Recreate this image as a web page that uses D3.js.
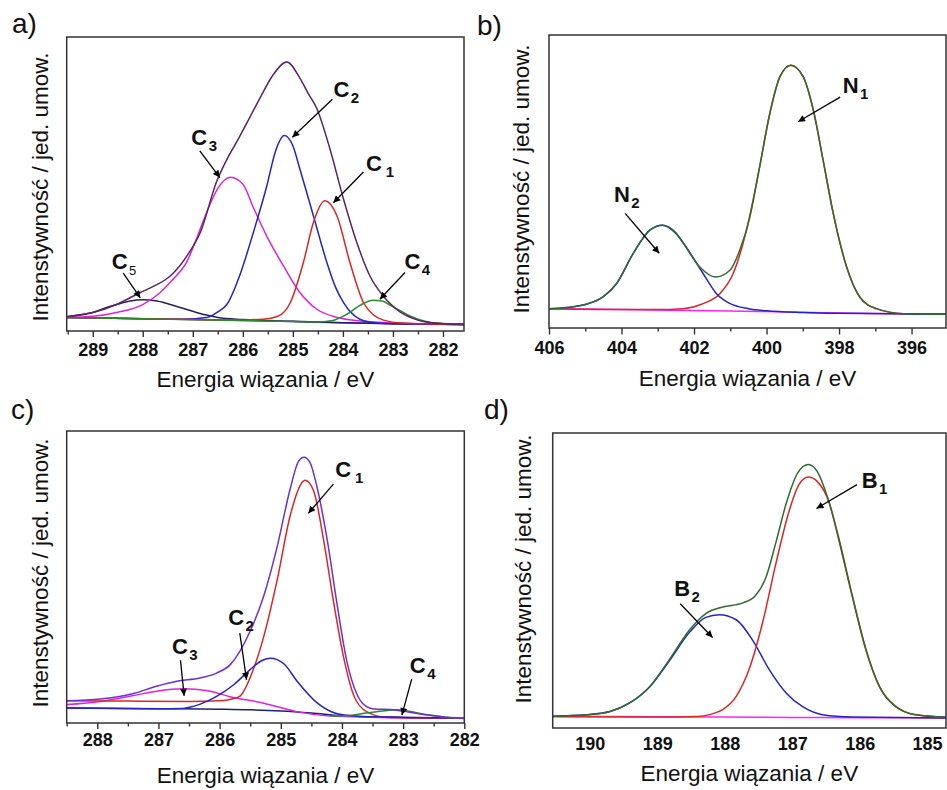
<!DOCTYPE html>
<html><head><meta charset="utf-8">
<script src="https://cdn.jsdelivr.net/npm/d3@7"></script>
<style>html,body{margin:0;padding:0;background:#fff;} svg{display:block}</style>
</head><body><svg id="chart" width="947" height="790"></svg>
<script>
// ---------------- DATA (binding energy eV, intensity a.u. 0-100) ----------------
// Panel a) C 1s
const aBaseline = [[289.52,4.6],[288,4.2],[287,3.9],[286,3.6],[285,3.2],[284,2.8],[283,2.5],[281.58,2.2]];
const aC5 = [[289.52,4.8],[289.2,5.6],[289.0,6.3],[288.75,7.8],[288.5,9.1],[288.25,10.2],[288.0,10.6],[287.75,10.3],[287.5,9.3],[287.25,8.0],[287.0,6.7],[286.75,5.5],[286.5,4.6],[286.0,3.9],[285,3.3],[284,2.8],[283,2.5],[281.58,2.2]];
const aC3 = [[289.52,4.6],[289,5.0],[288.5,6.4],[288.0,9.0],[287.65,13.1],[287.4,17.5],[287.12,23.5],[286.9,32.5],[286.72,40.5],[286.5,48.5],[286.25,52.3],[286.0,50.0],[285.79,42],[285.5,31.5],[285.19,22.2],[284.86,13.1],[284.52,7.4],[284.2,5.0],[283.86,3.8],[283,2.7],[281.58,2.2]];
const aC2 = [[289.52,4.6],[288,4.2],[287.2,4.0],[286.72,4.6],[286.5,6.5],[286.32,9.0],[286.05,19.5],[285.79,33.5],[285.52,49.4],[285.35,61],[285.17,66.5],[285.0,63],[284.86,55.1],[284.59,39.2],[284.32,23.3],[284.15,15],[283.99,9.7],[283.66,4.0],[283.32,2.7],[282.5,2.3],[281.58,2.2]];
const aC1 = [[289.52,4.6],[287,3.9],[286.2,3.7],[285.6,4.0],[285.3,5.0],[285.05,9.7],[284.79,23.3],[284.59,36.9],[284.36,44.3],[284.12,39.2],[283.86,23.3],[283.59,9.7],[283.4,5.6],[283.19,3.7],[282.8,2.7],[281.58,2.2]];
const aC4 = [[289.52,4.6],[286,3.6],[285,3.2],[284.5,3.1],[284.2,3.6],[283.92,5.7],[283.65,8.8],[283.4,10.5],[283.2,10.1],[283.06,8.8],[282.86,7.0],[282.66,5.1],[282.4,3.5],[282.1,2.6],[281.58,2.3]];
const aEnvelope = [[289.52,4.9],[289.0,6.3],[288.5,9.2],[288.05,13.1],[287.75,15.5],[287.45,18.7],[287.1,26],[286.85,33.5],[286.52,51],[286.3,59],[286.1,65],[285.85,73],[285.65,79.5],[285.4,87],[285.12,91.5],[284.86,86],[284.7,81],[284.52,75.6],[284.26,62],[283.99,45],[283.72,30],[283.46,18.7],[283.19,11.8],[282.86,6.5],[282.6,4.3],[282.39,3.2],[282,2.5],[281.58,2.3]];
const aTicks = [289,288,287,286,285,284,283,282];
const aMinor = [289.5,288.5,287.5,286.5,285.5,284.5,283.5,282.5];
const aLabels = [
  {t:"C", s:"5", at:[288.62,21.2], from:[288.39,19.7], to:[288.05,11.3]},
  {t:"C", s:"3", at:[287.03,63.4], from:[286.86,61.3], to:[286.46,52.2]},
  {t:"C", s:"2", at:[284.19,79.5], from:[284.21,78.8], to:[285.01,65.9]},
  {t:"C", s:"1", at:[283.54,54.5], from:[283.59,54.1], to:[284.19,43.6]},
  {t:"C", s:"4", at:[282.77,21.2], from:[282.76,19.9], to:[283.26,10.8]}
];

// Panel b) N 1s
const bBaseline = [[406,6.6],[404,6.3],[402,6.0],[400,5.6],[398,5.1],[396,4.8],[395.05,4.7]];
const bN2 = [[406,6.6],[405.5,7.0],[404.97,8.1],[404.51,10.6],[404.14,15.1],[403.68,25.4],[403.22,33.4],[402.87,35.1],[402.5,32.3],[402.21,27.5],[401.75,18.6],[401.38,11.7],[401.0,8.3],[400.5,6.6],[400.0,5.9],[399,5.3],[398,5.0],[395.05,4.7]];
const bN1 = [[406,6.6],[403.5,6.3],[403.04,6.3],[402.3,6.6],[401.75,8.3],[401.29,11.7],[400.92,18.6],[400.55,33.5],[400.19,55],[399.91,73.2],[399.63,85.8],[399.33,89.7],[398.99,85.8],[398.71,74.4],[398.44,57.3],[398.16,39.1],[397.79,20.8],[397.43,10.6],[396.97,6.6],[396.23,4.9],[395.05,4.7]];
const bEnvelope = [[406,6.6],[405.5,7.0],[404.97,8.1],[404.51,10.6],[404.14,15.1],[403.68,25.4],[403.22,33.4],[402.87,35.1],[402.5,32.5],[402.3,29],[401.84,20.8],[401.41,17.4],[401.01,19.7],[400.74,26.5],[400.46,37.9],[400.19,55],[399.91,73.2],[399.63,85.8],[399.33,89.7],[398.99,85.8],[398.71,74.4],[398.44,57.3],[398.16,39.1],[397.79,20.8],[397.43,10.6],[396.97,6.6],[396.23,4.9],[395.05,4.7]];
const bTicks = [406,404,402,400,398,396];
const bMinor = [405,403,401,399,397,395];
const bLabels = [
  {t:"N", s:"1", at:[397.9,80.2], from:[397.97,78.8], to:[399.13,70.4]},
  {t:"N", s:"2", at:[404.21,43.0], from:[403.9,39.1], to:[402.96,25.5]}
];

// Panel c) C 1s
const cBaseline = [[288.5,5.1],[287,4.9],[286,4.7],[285.5,4.5],[285,4.1],[284.5,3.4],[284,2.5],[283.5,2.1],[283,1.9],[282,1.7]];
const cC3 = [[288.5,6.3],[287.95,7.4],[287.41,9.4],[287.03,10.9],[286.59,11.7],[286.21,11.1],[285.83,9.0],[285.28,6.8],[284.74,3.9],[284.2,2.4],[283.5,2.0],[282,1.7]];
const cC2 = [[288.5,5.1],[287,4.9],[286.6,5.0],[286.43,5.7],[286.2,7.5],[286.05,9.1],[285.77,13.1],[285.5,18.3],[285.3,21.5],[285.17,22.2],[284.95,20.3],[284.74,14.5],[284.41,7.0],[284.14,3.6],[283.86,2.5],[283.5,2.1],[282,1.7]];
const cC1 = [[288.5,7.6],[287.5,7.5],[286.5,7.4],[286.0,7.6],[285.8,8.2],[285.66,9.3],[285.5,15.6],[285.28,29.5],[285.06,48.9],[284.85,70.7],[284.68,81.5],[284.6,83.1],[284.46,79.3],[284.3,62.6],[284.14,41.8],[283.97,22.2],[283.81,9.6],[283.59,3.8],[283.26,1.9],[282.5,1.7],[282,1.7]];
const cC4 = [[284.2,2.4],[283.9,2.6],[283.6,3.4],[283.3,4.2],[283.1,4.5],[282.9,4.0],[282.6,2.8],[282.3,2.0],[282,1.8]];
const cEnvelope = [[288.5,7.6],[287.95,8.2],[287.41,10.1],[287.03,12.6],[286.7,14.3],[286.32,15.4],[286.05,17.1],[285.83,19.9],[285.5,31.5],[285.28,43.4],[285.06,60.3],[284.85,79.9],[284.71,89.6],[284.62,91.0],[284.52,89.1],[284.41,81],[284.24,62.6],[284.08,40.7],[283.92,21.1],[283.75,9.6],[283.59,5.5],[283.48,4.8],[283.2,4.6],[282.99,4.0],[282.6,2.7],[282.3,2.0],[282,1.5]];
const cTicks = [288,287,286,285,284,283,282];
const cMinor = [288.5,287.5,286.5,285.5,284.5,283.5,282.5];
const cLabels = [
  {t:"C", s:"1", at:[284.11,84.4], from:[284.14,81.8], to:[284.55,71.8]},
  {t:"C", s:"2", at:[285.86,33.7], from:[285.67,30.8], to:[285.56,14.8]},
  {t:"C", s:"3", at:[286.78,23.7], from:[286.64,21.5], to:[286.58,9.3]},
  {t:"C", s:"4", at:[282.89,17.1], from:[282.86,15.0], to:[283.02,2.7]}
];

// Panel d) B 1s
const dBaseline = [[190.55,4.0],[189,3.8],[188,3.7],[187,3.6],[186,3.5],[184.72,3.4]];
const dB2 = [[190.55,4.0],[190.05,4.5],[189.7,5.6],[189.41,8.5],[189.11,14.0],[188.82,22.8],[188.52,32.5],[188.28,37.5],[188.08,38.4],[187.83,36.7],[187.59,29.9],[187.34,19.8],[187.09,11.9],[186.85,7.3],[186.55,4.5],[186.11,3.7],[184.72,3.4]];
const dB1 = [[190.55,3.8],[189,3.7],[188.4,3.9],[188.2,4.7],[188.03,6.2],[187.83,10.7],[187.64,19.8],[187.44,35.6],[187.24,55.9],[187.04,74],[186.9,82.5],[186.76,85.1],[186.63,83.6],[186.45,76.3],[186.31,63.8],[186.11,44.6],[185.91,26.6],[185.71,14.1],[185.47,7.3],[185.17,4.5],[184.72,3.7]];
const dEnvelope = [[190.55,4.0],[190.05,4.5],[189.7,5.6],[189.41,8.5],[189.11,14.1],[188.82,23.2],[188.52,33.3],[188.28,38.8],[188.03,41.0],[187.73,42.4],[187.54,45],[187.39,51],[187.24,63],[187.09,76],[186.92,86.4],[186.76,89.3],[186.63,87.0],[186.48,78.5],[186.31,64.5],[186.11,45],[185.91,27],[185.71,14.3],[185.47,7.4],[185.17,4.5],[184.72,3.7]];
const dTicks = [190,189,188,187,186,185];
const dMinor = [];
const dLabels = [
  {t:"B", s:"1", at:[185.97,81.5], from:[186.04,82.5], to:[186.64,74.4]},
  {t:"B", s:"2", at:[188.75,44.9], from:[188.66,42.1], to:[188.18,30.7]}
];

const xTitle = "Energia wiązania / eV";
const yTitle = "Intenstywność / jed. umow.";

// ---------------- LAYOUT / STYLE ----------------
const FONT = "'Liberation Sans', Arial, Helvetica, sans-serif";
const COL = {red:"#e02424", blue:"#2323cc", magenta:"#e022e0", green:"#2a8a2a", navy:"#20205e",
             plum:"#5c2266", violet:"#6d2fd6", dgreen:"#2f6b2f", basePurple:"#8a34c8", baseMag:"#ff22ff", baseNavy:"#1d2170"};

const panels = [
  {letter:"a)", lx:12, ly:33, frame:[66.7,464,37,331], domain:[289.52,281.58], ticks:aTicks, minor:aMinor,
   tick:6, pad:6, titleY:387, yl:[48,187], labels:aLabels, subDx:{"1":4},
   curves:[[aBaseline,COL.basePurple],[aC5,COL.navy],[aC3,COL.magenta],[aC2,COL.blue],[aC1,COL.red],[aC4,COL.green],[aEnvelope,COL.plum]]},
  {letter:"b)", lx:477, ly:35, frame:[549,946,35,328], domain:[406,395.05], ticks:bTicks, minor:bMinor,
   tick:6.5, pad:7, titleY:386, yl:[529,179], labels:bLabels, subDx:{},
   curves:[[bBaseline,COL.baseMag],[bN1,COL.red],[bN2,COL.blue],[bEnvelope,COL.dgreen]]},
  {letter:"c)", lx:11, ly:419, frame:[66.7,464.3,431,723], domain:[288.5,282], ticks:cTicks, minor:cMinor,
   tick:6, pad:4.5, titleY:783, yl:[48,573], labels:cLabels, subDx:{"1":4},
   curves:[[cBaseline,COL.baseNavy],[cC3,COL.magenta],[cC1,COL.red],[cC2,COL.blue],[cC4,COL.green],[cEnvelope,COL.violet]]},
  {letter:"d)", lx:484, ly:419, frame:[552.7,946,433,728], domain:[190.55,184.72], ticks:dTicks, minor:dMinor,
   tick:0, pad:9, titleY:781, yl:[531,569], labels:dLabels, subDx:{},
   curves:[[dBaseline,COL.baseMag],[dB2,COL.blue],[dB1,COL.red],[dEnvelope,COL.dgreen]]}
];

const svg = d3.select("#chart");
const defs = svg.append("defs");
defs.append("marker").attr("id","arr").attr("viewBox","0 0 10 10").attr("refX",10).attr("refY",5)
  .attr("markerWidth",9).attr("markerHeight",7).attr("markerUnits","userSpaceOnUse").attr("orient","auto")
  .append("path").attr("d","M0,0 L10,5 L0,10 z").attr("fill","#000");

panels.forEach((p,i) => {
  const [x0,x1,y0,y1] = p.frame;
  const x = d3.scaleLinear().domain(p.domain).range([x0,x1]);
  const y = d3.scaleLinear().domain([0,100]).range([y1,y0]);
  const g = svg.append("g");

  defs.append("clipPath").attr("id","clip"+i).append("rect")
    .attr("x",x0).attr("y",y0).attr("width",x1-x0).attr("height",y1-y0);

  const line = d3.line().x(d=>x(d[0])).y(d=>y(d[1])).curve(d3.curveMonotoneX);
  const cg = g.append("g").attr("clip-path",`url(#clip${i})`);
  p.curves.forEach(([data,color]) => {
    cg.append("path").datum(data).attr("d",line).attr("fill","none")
      .attr("stroke",color).attr("stroke-width",1.5).attr("stroke-linejoin","round");
  });

  // frame
  g.append("rect").attr("x",x0).attr("y",y0).attr("width",x1-x0).attr("height",y1-y0)
    .attr("fill","none").attr("stroke","#333").attr("stroke-width",1.5);

  // axes
  const ax = g.append("g").attr("transform",`translate(0,${y1})`)
    .call(d3.axisBottom(x).tickValues(p.ticks).tickSize(p.tick).tickPadding(p.pad).tickFormat(d3.format("d")));
  ax.select(".domain").remove();
  ax.selectAll("line").attr("stroke","#333").attr("stroke-width",1.4);
  ax.selectAll("text").attr("font-family",FONT).attr("font-size",18).attr("font-weight","bold").attr("fill","#111");
  if (p.minor.length) {
    const lo = Math.min(...p.domain), hi = Math.max(...p.domain);
    const mx = g.append("g").attr("transform",`translate(0,${y1})`)
      .call(d3.axisBottom(x).tickValues(p.minor.filter(v => v<=hi && v>=lo)).tickSize(3.5).tickFormat(""));
    mx.select(".domain").remove();
    mx.selectAll("line").attr("stroke","#333").attr("stroke-width",1.4);
  }

  // titles
  g.append("text").attr("x",(x0+x1)/2).attr("y",p.titleY).attr("text-anchor","middle")
    .attr("font-family",FONT).attr("font-size",22.5).attr("fill","#111").text(xTitle);
  g.append("text").attr("transform",`translate(${p.yl[0]},${p.yl[1]}) rotate(-90)`).attr("text-anchor","middle")
    .attr("font-family",FONT).attr("font-size",22.5).attr("fill","#111").text(yTitle);
  g.append("text").attr("x",p.lx).attr("y",p.ly).attr("font-family",FONT).attr("font-size",28)
    .attr("fill","#111").text(p.letter);

  // annotations
  p.labels.forEach(l => {
    g.append("line").attr("x1",x(l.from[0])).attr("y1",y(l.from[1])).attr("x2",x(l.to[0])).attr("y2",y(l.to[1]))
      .attr("stroke","#000").attr("stroke-width",1.3).attr("marker-end","url(#arr)");
    const small = (l.s === "5");
    const t = g.append("text").attr("x",x(l.at[0])).attr("y",y(l.at[1])).attr("font-family",FONT)
      .attr("font-size",22).attr("font-weight","bold").attr("fill","#111");
    t.append("tspan").text(l.t);
    t.append("tspan").attr("dx", p.subDx[l.s] !== undefined ? p.subDx[l.s] : 1.5).attr("dy",6)
      .attr("font-size", small ? 13 : 15).attr("font-weight", small ? "normal" : "bold").text(l.s);
  });
});
</script></body></html>
